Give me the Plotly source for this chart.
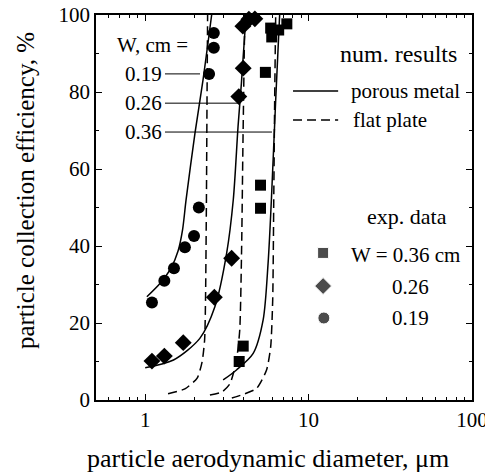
import plotly.graph_objects as go

# ---------------- experimental data ----------------
sq_x = [1.59, 2.13, 2.79, 3.76, 3.98, 5.08, 5.08, 5.44, 5.86, 5.95, 6.56, 7.36]
sq_y = [-0.5, -0.5, -0.5, 10.0, 14.0, 49.8, 55.8, 85.1, 96.6, 94.3, 96.1, 97.7]
di_x = [1.10, 1.31, 1.71, 2.65, 3.38, 3.74, 3.98, 3.96, 4.31, 4.69]
di_y = [10.1, 11.4, 14.9, 26.7, 36.8, 78.8, 86.2, 97.1, 98.9, 99.0]
ci_x = [1.10, 1.31, 1.50, 1.75, 1.99, 2.13, 2.46, 2.63, 2.63]
ci_y = [25.3, 31.0, 34.2, 39.7, 42.6, 50.0, 84.7, 91.5, 95.3]

# ---------------- numerical results ----------------
por019_x = [1.024, 1.235, 1.44, 1.589, 1.693, 1.778, 2.017, 2.258, 2.551]
por019_y = [26.8, 30.3, 34.3, 38.7, 44.2, 51.9, 69.3, 83.1, 100]
flat019_x = [1.38, 1.75, 2.08, 2.23, 2.31, 2.34, 2.37, 2.39, 2.41]
flat019_y = [1.6, 2.9, 5.7, 9.9, 15.6, 26, 52, 78, 100]

por026_x = [1.0, 1.49, 2.16, 2.67, 3.15, 3.46, 3.70, 3.88, 4.07, 4.17]
por026_y = [8.4, 10.4, 16.0, 24.2, 38.1, 52, 71, 82.3, 95.2, 100]
flat026_x = [2.49, 2.95, 3.30, 3.62, 3.79, 3.89, 3.96, 4.04, 4.07]
flat026_y = [1.3, 2.1, 4.2, 10.4, 18.2, 39, 65, 90.9, 100]

por036_x = [3.00, 3.62, 4.58, 5.27, 5.65, 5.92, 6.29, 6.65]
por036_y = [5.2, 7.8, 12.1, 20.8, 35.5, 52, 77.9, 100]
flat036_x = [3.39, 3.70, 4.80, 5.53, 5.86, 6.03, 6.12, 6.20, 6.29]
flat036_y = [0.5, 1.0, 3.0, 7.8, 13.8, 26, 52, 78, 100]

x_tickvals = [1, 10, 100]
x_ticktext = ["1", "10", "100"]
x_minor = [0.6, 0.7, 0.8, 0.9, 2, 3, 4, 5, 6, 7, 8, 9, 20, 30, 40, 50, 60, 70, 80, 90]

FONT = "Liberation Serif"
DASH = "9px,5px"

fig = go.Figure()

for xs, ys in [(por019_x, por019_y), (por026_x, por026_y), (por036_x, por036_y)]:
    fig.add_trace(go.Scatter(x=xs, y=ys, mode="lines", line=dict(color="black", width=1.5, shape="spline", smoothing=0.8),
                             showlegend=False, hoverinfo="skip"))
for xs, ys in [(flat019_x, flat019_y), (flat026_x, flat026_y), (flat036_x, flat036_y)]:
    fig.add_trace(go.Scatter(x=xs, y=ys, mode="lines", line=dict(color="black", width=1.5, dash=DASH, shape="spline", smoothing=0.6),
                             showlegend=False, hoverinfo="skip"))

fig.add_trace(go.Scatter(x=sq_x, y=sq_y, mode="markers", marker=dict(symbol="square", size=11, color="black"),
                         showlegend=False, cliponaxis=True))
fig.add_trace(go.Scatter(x=di_x, y=di_y, mode="markers", marker=dict(symbol="diamond", size=13, color="black"),
                         showlegend=False, cliponaxis=False))
fig.add_trace(go.Scatter(x=ci_x, y=ci_y, mode="markers", marker=dict(symbol="circle", size=12, color="black"),
                         showlegend=False, cliponaxis=False))

# legend symbols on an overlay (paper-like) axis
fig.add_trace(go.Scatter(x=[0.604, 0.604, 0.606], y=[0.382, 0.296, 0.213], mode="markers",
                         marker=dict(symbol=["square", "diamond", "circle"], size=[11, 13, 12], color="black"),
                         xaxis="x2", yaxis="y2", showlegend=False, hoverinfo="skip"))

axis_common = dict(showline=True, linecolor="black", linewidth=1.5, mirror="ticks", ticks="inside",
                   tickcolor="black", tickwidth=1.2, showgrid=False, zeroline=False, automargin=False,
                   ticklabeloverflow="allow",
                   tickfont=dict(family=FONT, size=21, color="black"))

# the page body adds an 8px offset, so the figure is 8px smaller than the window
fig.update_layout(
    width=485, height=466, autosize=False,
    margin=dict(l=88, r=21, t=7, b=74, pad=0, autoexpand=False),
    paper_bgcolor="white", plot_bgcolor="white",
    font=dict(family=FONT, color="black"),
    xaxis=dict(type="log", range=[-0.30103, 2], tickvals=x_tickvals, ticktext=x_ticktext, ticklen=6,
               minor=dict(tickvals=x_minor, ticks="inside", ticklen=3, tickcolor="black", tickwidth=1),
               **axis_common),
    yaxis=dict(range=[0, 100], dtick=20, ticklen=6,
               minor=dict(dtick=10, ticks="inside", ticklen=3, tickcolor="black", tickwidth=1),
               **axis_common),
    xaxis2=dict(overlaying="x", range=[0, 1], visible=False, domain=[0, 1]),
    yaxis2=dict(overlaying="y", range=[0, 1], visible=False, anchor="x2"),
)

# axis titles
fig.add_annotation(text="particle aerodynamic diameter, μm", x=0.457, y=-0.151, xref="paper", yref="paper",
                   xanchor="center", yanchor="middle", showarrow=False, font=dict(family=FONT, size=26, color="black"))
fig.add_annotation(text="particle collection efficiency, %", x=-0.189, y=0.545, xref="paper", yref="paper",
                   xanchor="center", yanchor="middle", textangle=-90, showarrow=False,
                   font=dict(family=FONT, size=25, color="black"))

ann_font = dict(family=FONT, size=21, color="black")
anns = [
    ("W, cm =", 0.051, 0.922, 21),
    ("0.19", 0.072, 0.847, 21),
    ("0.26", 0.072, 0.771, 21),
    ("0.36", 0.072, 0.696, 21),
    ("num. results", 0.644, 0.899, 24),
    ("porous metal", 0.673, 0.803, 21),
    ("flat plate", 0.678, 0.727, 21),
    ("exp. data", 0.716, 0.476, 22),
    ("W = 0.36 cm", 0.673, 0.377, 21),
    ("0.26", 0.782, 0.2935, 21),
    ("0.19", 0.782, 0.213, 21),
]
for txt, x, y, sz in anns:
    fig.add_annotation(text=txt, x=x, y=y, xref="paper", yref="paper", xanchor="left", yanchor="middle",
                       showarrow=False, font=dict(family=FONT, size=sz, color="black"))

# leader lines for W labels
for y, x1 in [(0.847, 0.2766), (0.771, 0.383), (0.696, 0.468)]:
    fig.add_shape(type="line", xref="paper", yref="paper", x0=0.1835, x1=x1, y0=y, y1=y,
                  line=dict(color="black", width=1))

# legend lines
fig.add_shape(type="line", xref="paper", yref="paper", x0=0.524, x1=0.644, y0=0.8026, y1=0.8026,
              line=dict(color="black", width=1.5))
fig.add_shape(type="line", xref="paper", yref="paper", x0=0.524, x1=0.644, y0=0.727, y1=0.727,
              line=dict(color="black", width=1.5, dash=DASH))

fig.write_html("out.html")
